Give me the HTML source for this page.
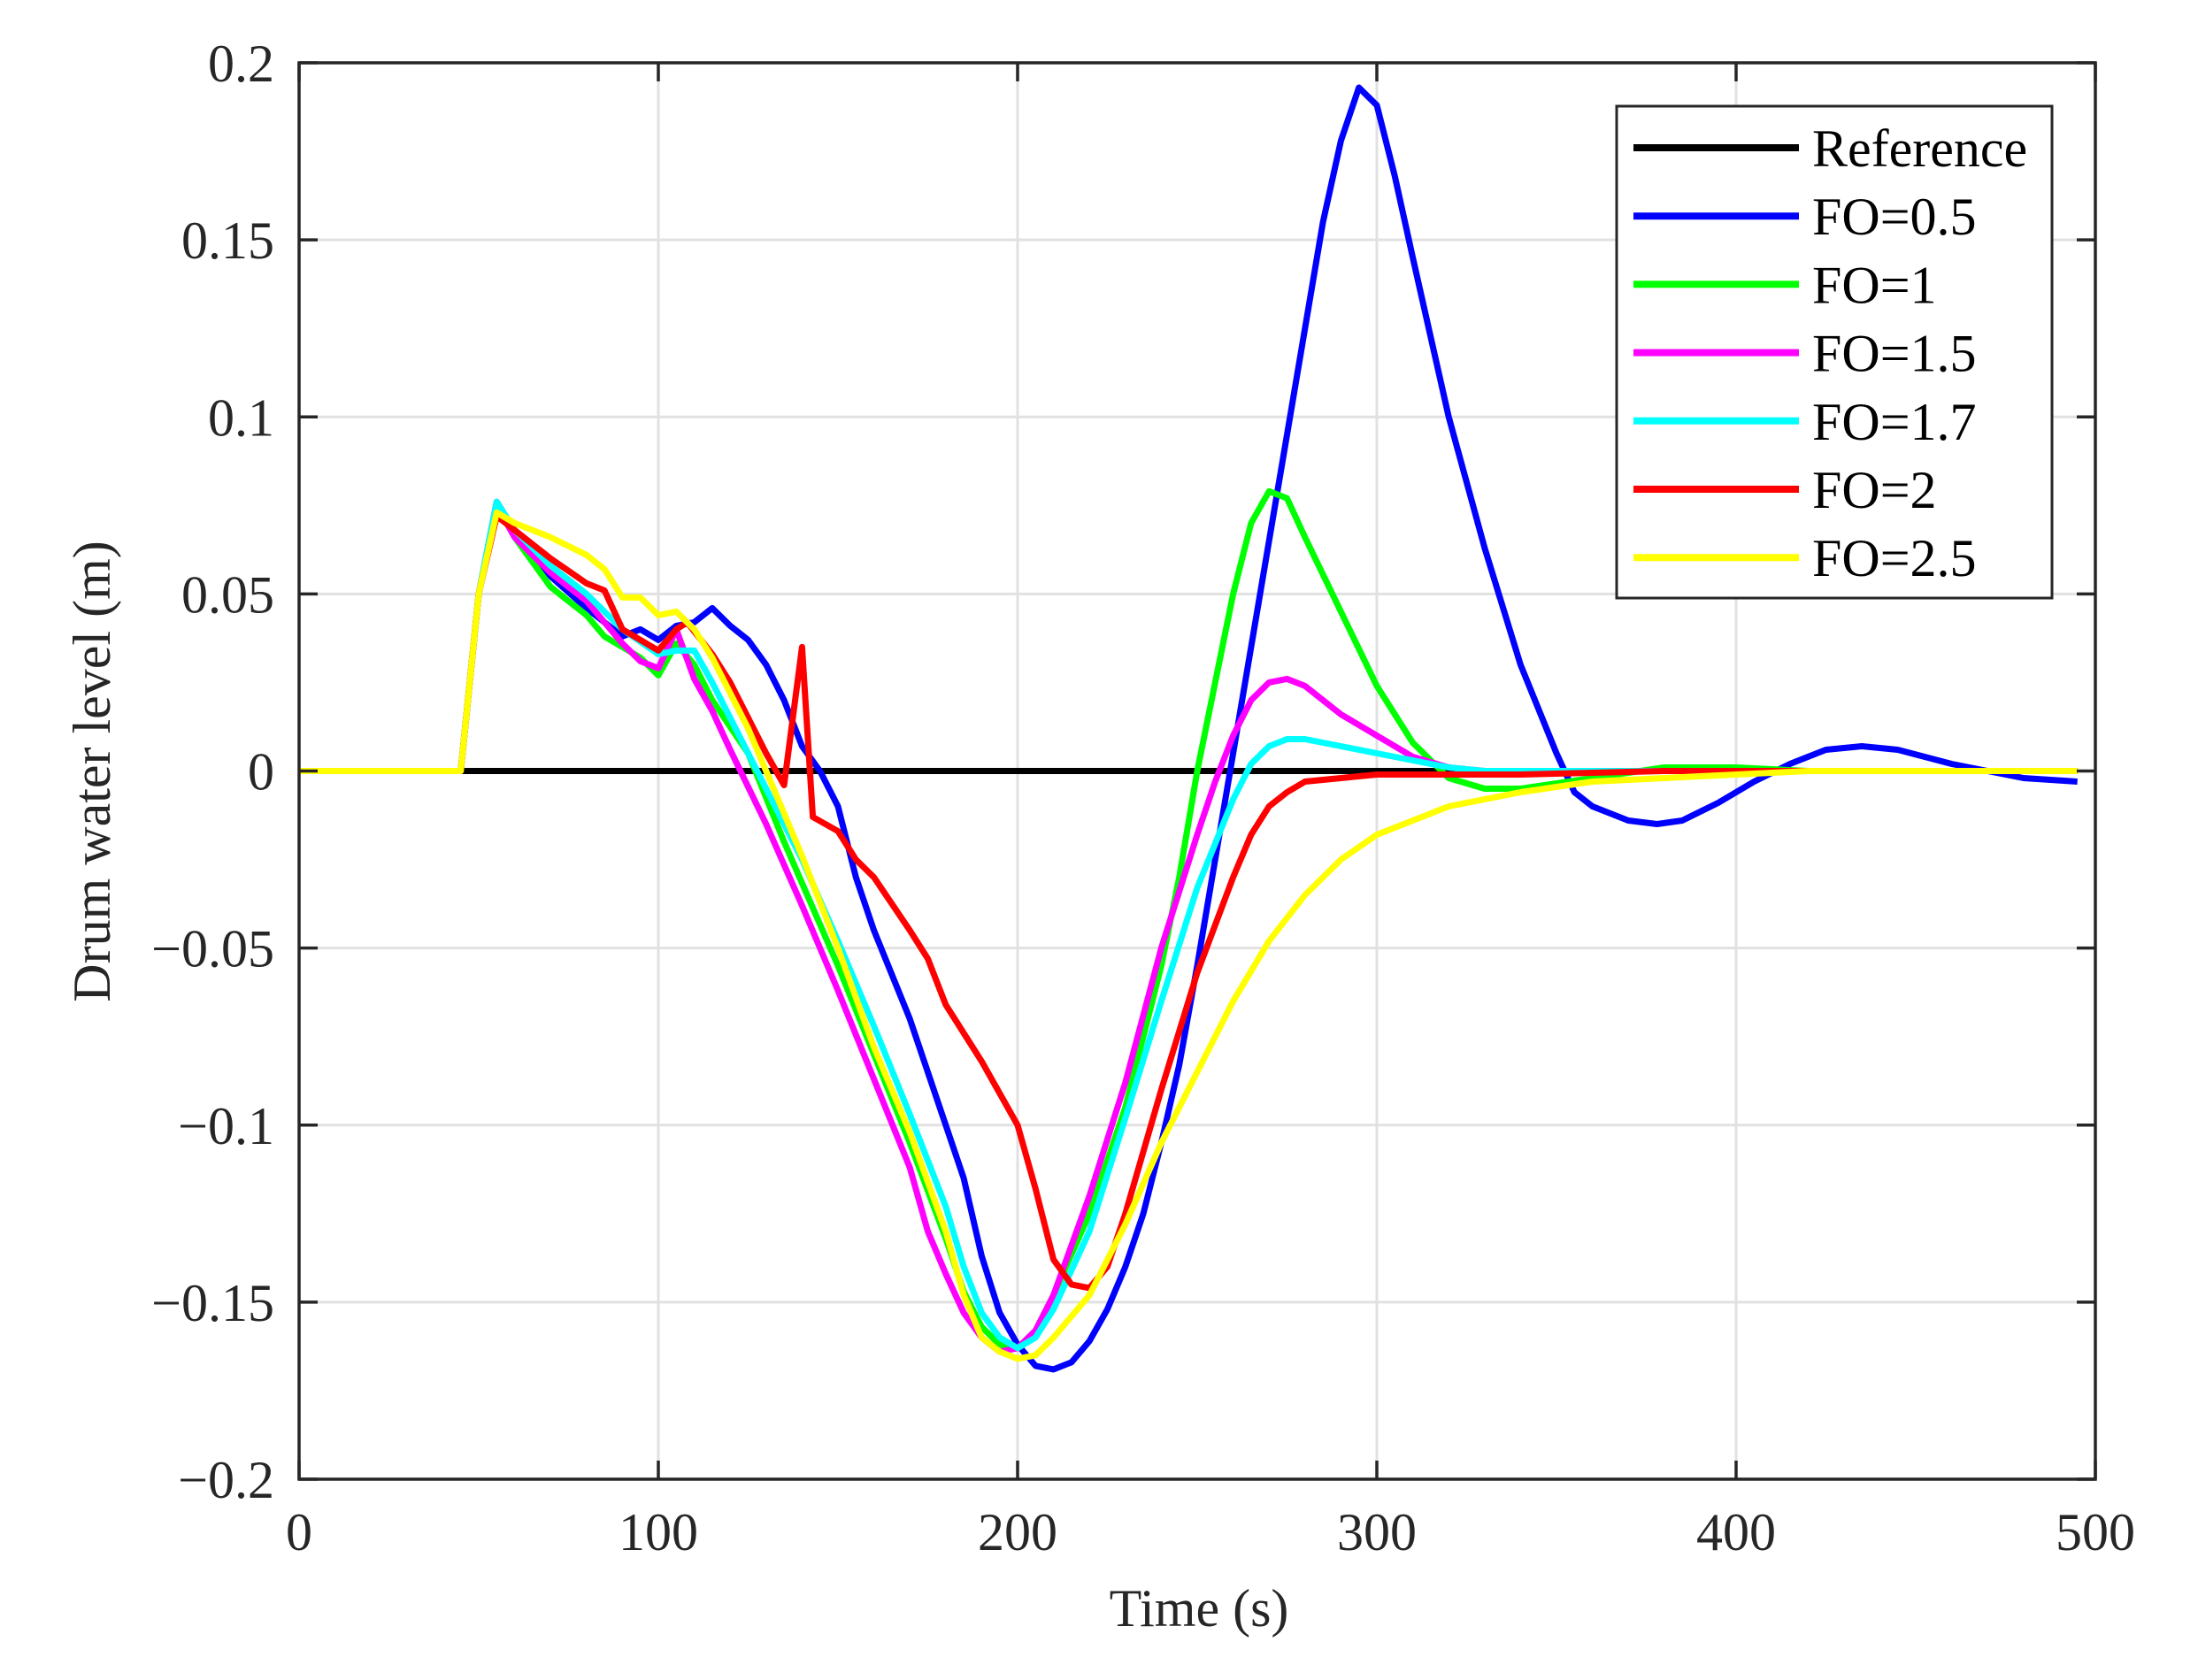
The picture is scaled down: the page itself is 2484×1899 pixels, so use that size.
<!DOCTYPE html>
<html><head><meta charset="utf-8"><style>
html,body{margin:0;padding:0;background:#fff}
svg{display:block}
text{font-family:"Liberation Serif",serif;fill:#262626}
</style></head><body>
<svg id="s" width="2484" height="1899" xmlns="http://www.w3.org/2000/svg">
<rect width="2484" height="1899" fill="#fff"/>
<g id="grid"></g>
<g id="series"></g>
<g id="axes"></g>
</svg>
<script>
var L=338,R=2368,T=71,B=1672;
function X(t){return L+(t/500)*(R-L);}
function Y(v){return B-((v+0.2)/0.4)*(B-T);}
var NS="http://www.w3.org/2000/svg";
function el(p,n,a,txt){var e=document.createElementNS(NS,n);for(var k in a)e.setAttribute(k,a[k]);if(txt!==undefined)e.textContent=txt;document.getElementById(p).appendChild(e);return e;}
for(var t=100;t<500;t+=100)el("grid","line",{x1:X(t),x2:X(t),y1:T,y2:B,stroke:"#e1e1e1","stroke-width":3});
for(var v=-0.15;v<0.19;v+=0.05)el("grid","line",{x1:L,x2:R,y1:Y(v),y2:Y(v),stroke:"#e1e1e1","stroke-width":3});
function ser(pts,col){
 var s="";for(var i=0;i<pts.length;i+=2)s+=X(pts[i]).toFixed(1)+","+Y(pts[i+1]).toFixed(1)+" ";
 el("series","polyline",{points:s,fill:"none",stroke:col,"stroke-width":7,"stroke-linejoin":"round","stroke-linecap":"butt"});
}
ser([0,0,495,0],"#000");
ser([0,0,45,0,50,0.05,55,0.076,60,0.068,70,0.055,80,0.046,90,0.038,95,0.04,100,0.037,105,0.041,110,0.042,115,0.046,120,0.041,125,0.037,130,0.03,135,0.02,140,0.007,145,0,150,-0.01,155,-0.03,160,-0.045,170,-0.07,180,-0.1,185,-0.115,190,-0.137,195,-0.153,200,-0.162,205,-0.168,210,-0.169,215,-0.167,220,-0.161,225,-0.152,230,-0.14,235,-0.125,240,-0.105,245,-0.083,250,-0.055,255,-0.025,260,0.005,265,0.035,270,0.065,275,0.095,280,0.125,285,0.155,290,0.178,295,0.193,300,0.188,305,0.168,310,0.145,320,0.1,330,0.063,340,0.03,350,0.005,355,-0.006,360,-0.01,370,-0.014,378,-0.015,385,-0.014,395,-0.009,405,-0.003,415,0.002,425,0.006,435,0.007,445,0.006,460,0.002,470,0,480,-0.002,495,-0.003],"#0000ff");
ser([0,0,45,0,50,0.05,55,0.075,60,0.066,70,0.052,80,0.044,85,0.038,95,0.032,100,0.027,105,0.036,110,0.03,115,0.02,125,0.005,135,-0.02,150,-0.055,160,-0.08,170,-0.105,180,-0.132,185,-0.147,190,-0.157,195,-0.162,200,-0.163,205,-0.158,210,-0.148,220,-0.125,230,-0.095,240,-0.055,245,-0.03,250,0,255,0.025,260,0.05,265,0.07,270,0.079,275,0.077,280,0.066,290,0.045,300,0.024,310,0.008,320,-0.002,330,-0.005,340,-0.005,360,-0.002,380,0.001,400,0.001,420,0,495,0],"#00ff00");
ser([0,0,45,0,50,0.05,55,0.075,60,0.066,70,0.056,80,0.048,90,0.036,95,0.031,100,0.029,105,0.04,110,0.026,115,0.017,120,0.006,130,-0.015,140,-0.038,150,-0.062,160,-0.087,170,-0.112,175,-0.13,180,-0.142,185,-0.153,190,-0.16,195,-0.164,200,-0.163,205,-0.158,210,-0.148,220,-0.12,230,-0.088,240,-0.05,250,-0.018,255,-0.003,260,0.01,265,0.02,270,0.025,275,0.026,280,0.024,290,0.016,300,0.01,310,0.004,320,0.001,330,0,495,0],"#ff00ff");
ser([0,0,45,0,50,0.05,55,0.076,60,0.068,70,0.058,80,0.05,90,0.04,100,0.033,105,0.034,110,0.034,115,0.025,120,0.015,130,-0.005,140,-0.025,150,-0.048,160,-0.072,170,-0.097,180,-0.123,185,-0.14,190,-0.153,195,-0.16,200,-0.163,205,-0.16,210,-0.152,220,-0.13,230,-0.098,240,-0.065,250,-0.033,260,-0.008,265,0.002,270,0.007,275,0.009,280,0.009,290,0.007,300,0.005,310,0.003,320,0.001,330,0,495,0],"#00ffff");
ser([0,0,45,0,50,0.05,55,0.072,60,0.068,70,0.06,80,0.053,85,0.051,90,0.04,95,0.037,100,0.034,105,0.04,108,0.042,115,0.033,120,0.025,125,0.015,130,0.005,135,-0.004,140,0.035,143,-0.013,150,-0.017,155,-0.025,160,-0.03,170,-0.045,175,-0.053,180,-0.066,190,-0.082,200,-0.1,205,-0.118,210,-0.138,215,-0.145,220,-0.146,225,-0.14,230,-0.125,240,-0.09,250,-0.057,260,-0.03,265,-0.018,270,-0.01,275,-0.006,280,-0.003,290,-0.002,300,-0.001,340,-0.001,360,-0.0005,380,0,495,0],"#ff0000");
ser([0,0,45,0,50,0.05,55,0.073,60,0.07,70,0.066,80,0.061,85,0.057,90,0.049,95,0.049,100,0.044,105,0.045,110,0.04,115,0.032,120,0.022,125,0.012,130,0,140,-0.024,150,-0.05,160,-0.078,170,-0.102,180,-0.13,185,-0.148,190,-0.16,195,-0.164,200,-0.166,205,-0.165,210,-0.16,220,-0.148,230,-0.128,240,-0.105,250,-0.085,260,-0.065,270,-0.048,280,-0.035,290,-0.025,300,-0.018,320,-0.01,340,-0.006,360,-0.003,380,-0.002,400,-0.001,420,0,495,0],"#ffff00");
el("axes","rect",{x:L,y:T,width:R-L,height:B-T,fill:"none",stroke:"#262626","stroke-width":3.5});
for(var t=0;t<=500;t+=100){
 el("axes","line",{x1:X(t),x2:X(t),y1:B,y2:B-21,stroke:"#262626","stroke-width":3.5});
 el("axes","line",{x1:X(t),x2:X(t),y1:T,y2:T+21,stroke:"#262626","stroke-width":3.5});
 el("axes","text",{x:X(t),y:1752,"font-size":60,"text-anchor":"middle"},String(t));
}
var yl=["\u22120.2","\u22120.15","\u22120.1","\u22120.05","0","0.05","0.1","0.15","0.2"];
for(var i=0;i<9;i++){var v=-0.2+i*0.05;
 el("axes","line",{x1:L,x2:L+21,y1:Y(v),y2:Y(v),stroke:"#262626","stroke-width":3.5});
 el("axes","line",{x1:R,x2:R-21,y1:Y(v),y2:Y(v),stroke:"#262626","stroke-width":3.5});
 el("axes","text",{x:310,y:Y(v)+21,"font-size":60,"text-anchor":"end"},yl[i]);
}
el("axes","text",{x:1355,y:1838,"font-size":60,"text-anchor":"middle"},"Time (s)");
el("axes","text",{x:0,y:0,"font-size":60,"text-anchor":"middle",transform:"translate(124,872) rotate(-90)"},"Drum water level (m)");
el("axes","rect",{x:1827,y:120,width:492,height:556,fill:"#fff",stroke:"#262626","stroke-width":3});
var lg=[["Reference","#000"],["FO=0.5","#0000ff"],["FO=1","#00ff00"],["FO=1.5","#ff00ff"],["FO=1.7","#00ffff"],["FO=2","#ff0000"],["FO=2.5","#ffff00"]];
for(var i=0;i<7;i++){var yy=167+i*77.2;
 el("axes","line",{x1:1846,x2:2033,y1:yy,y2:yy,stroke:lg[i][1],"stroke-width":8});
 var tx=el("axes","text",{x:2048,y:yy+21,"font-size":60},lg[i][0]);tx.style.fill="#000";
}
</script>
</body></html>
